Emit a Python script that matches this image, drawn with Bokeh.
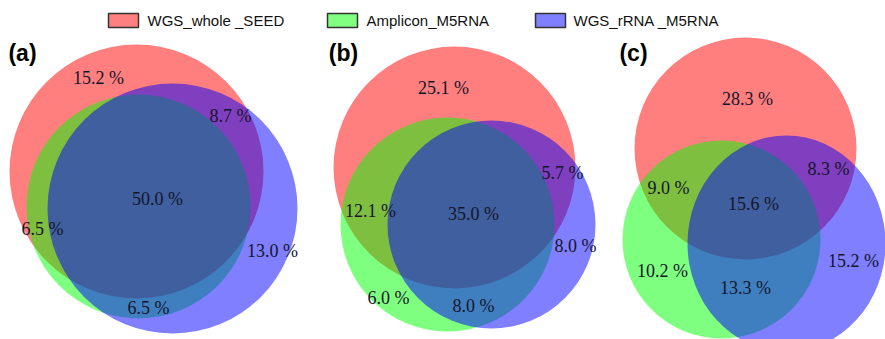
from bokeh.plotting import figure
from bokeh.models import Range1d, ColumnDataSource
from bokeh.core.properties import value
from bokeh.embed import file_html
from bokeh.resources import INLINE

# ---------------- data ----------------
sets = ["WGS_whole _SEED", "Amplicon_M5RNA", "WGS_rRNA _M5RNA"]
set_colors = ["#FF0000", "#00FF00", "#0000FF"]
legend_colors = ["#FF8080", "#80FF80", "#8080FF"]
panels = ["(a)", "(b)", "(c)"]

# region percentages per panel
a_regions = ["W only", "W&R", "all", "W&A", "R only", "A&R"]
a_values = [15.2, 8.7, 50.0, 6.5, 13.0, 6.5]
b_regions = ["W only", "W&R", "W&A", "all", "R only", "A only", "A&R"]
b_values = [25.1, 5.7, 12.1, 35.0, 8.0, 6.0, 8.0]
c_regions = ["W only", "W&R", "W&A", "all", "A only", "A&R", "R only"]
c_values = [28.3, 8.3, 9.0, 15.6, 10.2, 13.3, 15.2]

# ---------------- layout (pixel geometry, image coords) ----------------
W, H = 885, 339
def X(px): return px
def Y(py): return H - py

# circle geometry per panel: (cx, cy, w, h) for red, green, blue
geom = {
    "(a)": [(136, 171, 254, 254), (138, 206, 224, 224), (172, 208, 250, 250)],
    "(b)": [(454, 167, 242, 242), (447, 224, 214, 214), (491, 224, 208, 208)],
    "(c)": [(745, 148, 222, 222), (721, 239, 198, 198), (786, 243, 198, 216)],
}
label_pos = {
    "(a)": [(98, 77), (230, 115), (157, 198), (42, 228), (272, 250), (148, 307)],
    "(b)": [(443, 87), (562, 172), (370, 210), (473, 213), (575, 245), (388, 297), (473, 305)],
    "(c)": [(747, 98), (828, 168), (668, 187), (753, 203), (662, 270), (745, 287), (853, 260)],
}
panel_label_pos = [(22, 52), (343, 52), (633, 52)]
legend_box_x = [123, 342, 550]
legend_text_x = [147, 366, 573]
legend_y = 20

p = figure(width=W, height=H, output_backend="svg", toolbar_location=None,
           x_range=Range1d(0, W), y_range=Range1d(0, H), min_border=0)
p.axis.visible = False
p.grid.visible = False
p.outline_line_color = None
p.background_fill_color = "white"
p.border_fill_color = "white"

values_by_panel = {"(a)": a_values, "(b)": b_values, "(c)": c_values}

for pan in panels:
    for (cx, cy, w, h), col in zip(geom[pan], set_colors):
        p.ellipse(x=X(cx), y=Y(cy), width=w, height=h, fill_color=col,
                  fill_alpha=0.5, line_color=None)

for pan in panels:
    vals = values_by_panel[pan]
    pos = label_pos[pan]
    src = ColumnDataSource(dict(
        x=[X(a) for a, b in pos], y=[Y(b) for a, b in pos],
        t=[f"{v:.1f} %" for v in vals]))
    p.text(x="x", y="y", text="t", source=src, text_font=value("Liberation Serif"),
           text_font_size="18px", text_color="#15152a", text_align="center",
           text_baseline="middle")

src = ColumnDataSource(dict(x=[X(a) for a, b in panel_label_pos],
                            y=[Y(b) for a, b in panel_label_pos], t=panels))
p.text(x="x", y="y", text="t", source=src, text_font=value("Liberation Sans"),
       text_font_size="23px", text_font_style="bold", text_color="black",
       text_align="center", text_baseline="middle")

for bx, tx, lc, name in zip(legend_box_x, legend_text_x, legend_colors, sets):
    p.rect(x=X(bx), y=Y(legend_y), width=30, height=14, fill_color=lc,
           line_color="#333333", line_width=1.5)
    p.text(x=[X(tx)], y=[Y(legend_y)], text=[name],
           text_font=value("Liberation Sans"), text_font_size="15px",
           text_color="#111111", text_align="left", text_baseline="middle")

open("out.html", "w").write(file_html(p, INLINE))
